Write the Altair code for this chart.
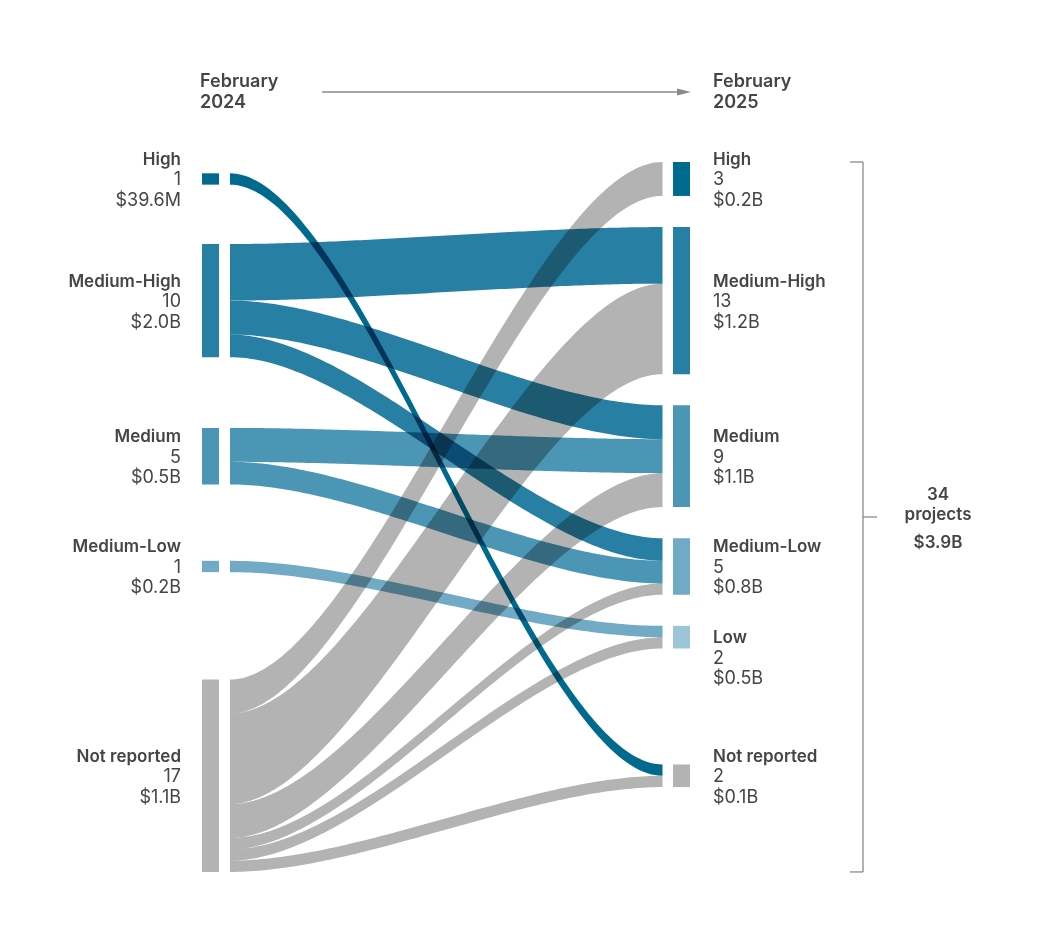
import altair as alt
import pandas as pd

# ---------------- data ----------------
left_labels = ["High", "Medium-High", "Medium", "Medium-Low", "Not reported"]
left_counts = [1, 10, 5, 1, 17]
left_values = ["$39.6M", "$2.0B", "$0.5B", "$0.2B", "$1.1B"]

right_labels = ["High", "Medium-High", "Medium", "Medium-Low", "Low", "Not reported"]
right_counts = [3, 13, 9, 5, 2, 2]
right_values = ["$0.2B", "$1.2B", "$1.1B", "$0.8B", "$0.5B", "$0.1B"]

flow_source = ["High", "Medium-High", "Medium-High", "Medium-High", "Medium", "Medium",
               "Medium-Low", "Not reported", "Not reported", "Not reported", "Not reported",
               "Not reported", "Not reported"]
flow_target = ["Not reported", "Medium-High", "Medium", "Medium-Low", "Medium", "Medium-Low",
               "Low", "High", "Medium-High", "Medium", "Medium-Low", "Low", "Not reported"]
flow_count = [1, 5, 3, 2, 3, 2, 1, 3, 8, 3, 1, 1, 1]

header_left = ["February", "2024"]
header_right = ["February", "2025"]
total_label = "projects"
total_value = "$3.9B"

# ---------------- style ----------------
COLORS = {"High": "#006a8e", "Medium-High": "#2780a3", "Medium": "#4b96b4",
          "Medium-Low": "#70aac4", "Low": "#9cc5d7", "Not reported": "#b3b3b3"}
LABEL_NUDGE_PX = {"Low": 20}   # right-hand label pushed down to avoid overlap
FONT = "Inter"
FS = 18
FS_TITLE = 17
TXT = "#454545"
GRAY = "#8a8a8a"
GAP = 2.75          # gap between stacked nodes, in project units
PX = 11.314         # pixels per project
TOP0 = 154          # plot pixel of unit 0
W, H = 1022, 931
CURV = 0.3

yscale = alt.Scale(domain=[-TOP0 / PX, (H - TOP0) / PX], reverse=True)

# ---------------- layout (sankey) ----------------
rc = dict(zip(right_labels, right_counts))
lc = dict(zip(left_labels, left_counts))
rtop = {}
y = 0.0
for lab, c in zip(right_labels, right_counts):
    rtop[lab] = y
    y += c + GAP
ltop = {}
for lab, c in zip(left_labels, left_counts):
    if lab == "Not reported":
        ltop[lab] = rtop[lab]
    else:
        ltop[lab] = rtop[lab] + rc[lab] / 2 - c / 2
rtop["Not reported"] = ltop["Not reported"] + lc["Not reported"] / 2 - rc["Not reported"] / 2

flows = pd.DataFrame({"source": flow_source, "target": flow_target, "count": flow_count})
flows["si"] = flows["source"].map({l: i for i, l in enumerate(left_labels)})
flows["ti"] = flows["target"].map({l: i for i, l in enumerate(right_labels)})
flows["fid"] = range(len(flows))
sy0 = {}
off = dict(ltop)
for _, r in flows.sort_values(["si", "ti"]).iterrows():
    sy0[r.fid] = off[r.source]
    off[r.source] += r["count"]
ty0 = {}
off = dict(rtop)
for _, r in flows.sort_values(["ti", "si"]).iterrows():
    ty0[r.fid] = off[r.target]
    off[r.target] += r["count"]
flows["sy0"] = flows["fid"].map(sy0)
flows["sy1"] = flows["sy0"] + flows["count"]
flows["ty0"] = flows["fid"].map(ty0)
flows["ty1"] = flows["ty0"] + flows["count"]
flows["color"] = flows["source"].map(COLORS)


def node_table(labels, counts, values, tops, nudge):
    df = pd.DataFrame({"label": labels, "count": [str(c) for c in counts], "value": values})
    df["top"] = df["label"].map(tops)
    df["bottom"] = df["top"] + counts
    df["center"] = (df["top"] + df["bottom"]) / 2
    df["tcenter"] = df["center"] + df["label"].map(lambda l: nudge.get(l, 0) / PX)
    df["color"] = df["label"].map(COLORS)
    return df


left = node_table(left_labels, left_counts, left_values, ltop, {})
right = node_table(right_labels, right_counts, right_values, rtop, LABEL_NUDGE_PX)

btop = min(left["top"].min(), right["top"].min())
bbot = max(left["bottom"].max(), right["bottom"].max())
bracket = pd.DataFrame({"top": [btop], "bottom": [bbot], "mid": [(btop + bbot) / 2],
                        "n": [str(sum(left_counts))], "lab": [total_label], "val": [total_value]})

one = pd.DataFrame({"a": [0]})

# ---------------- layers ----------------
flow_layer = (
    alt.Chart(flows)
    .transform_calculate(u="sequence(0, 1.0001, 0.01)")
    .transform_flatten(["u"])
    .transform_calculate(xx=f"3*{CURV}*datum.u*pow(1-datum.u,2) + 3*(1-{CURV})*pow(datum.u,2)*(1-datum.u) + pow(datum.u,3)")
    .transform_calculate(s="3*pow(datum.u,2) - 2*pow(datum.u,3)")
    .transform_calculate(yt="datum.sy0 + (datum.ty0 - datum.sy0)*datum.s")
    .transform_calculate(yb="datum.sy1 + (datum.ty1 - datum.sy1)*datum.s")
    .mark_area(blend="multiply", orient="vertical", interpolate="linear")
    .encode(
        x=alt.X("xx:Q", scale=alt.Scale(domain=[0, 1], range=[222, 654.5]), axis=None),
        y=alt.Y("yt:Q", scale=yscale, axis=None, stack=None),
        y2="yb:Q",
        color=alt.Color("color:N", scale=None),
        detail="fid:N",
    )
)


def bars(df, x0, x1):
    return alt.Chart(df).mark_rect().encode(
        x=alt.value(x0), x2=alt.value(x1),
        y=alt.Y("top:Q", scale=yscale, axis=None), y2="bottom:Q",
        color=alt.Color("color:N", scale=None),
    )


def texts(df, x, align):
    out = []
    for field, dy, wt, fs in [("label", -14, 600, FS_TITLE), ("count", 6.5, 400, FS),
                              ("value", 27, 400, FS)]:
        out.append(
            alt.Chart(df).mark_text(align=align, baseline="alphabetic", dy=dy, font=FONT,
                                    fontSize=fs, fontWeight=wt, color=TXT)
            .encode(x=alt.value(x), y=alt.Y("tcenter:Q", scale=yscale, axis=None),
                    text=f"{field}:N")
        )
    return out


def header(lines, x):
    return alt.Chart(one).mark_text(align="left", baseline="alphabetic", font=FONT, fontSize=FS,
                                    fontWeight=600, color=TXT, lineHeight=21).encode(
        x=alt.value(x), y=alt.value(79), text=alt.value(lines))


arrow_line = alt.Chart(one).mark_rule(color=GRAY, strokeWidth=1.3).encode(
    x=alt.value(314), x2=alt.value(672), y=alt.value(84))
arrow_head = alt.Chart(one).mark_point(shape="M-1,-0.5L1,0L-1,0.5Z", filled=True, size=196,
                                       color=GRAY, opacity=1).encode(
    x=alt.value(676), y=alt.value(84))

br_v = alt.Chart(bracket).mark_rule(color=GRAY, strokeWidth=1.3).encode(
    x=alt.value(855), y=alt.Y("top:Q", scale=yscale, axis=None), y2="bottom:Q")
br_t = alt.Chart(bracket).mark_rule(color=GRAY, strokeWidth=1.3).encode(
    x=alt.value(842), x2=alt.value(855), y=alt.Y("top:Q", scale=yscale, axis=None))
br_b = alt.Chart(bracket).mark_rule(color=GRAY, strokeWidth=1.3).encode(
    x=alt.value(842), x2=alt.value(855), y=alt.Y("bottom:Q", scale=yscale, axis=None))
br_m = alt.Chart(bracket).mark_rule(color=GRAY, strokeWidth=1.3).encode(
    x=alt.value(855), x2=alt.value(869), y=alt.Y("mid:Q", scale=yscale, axis=None))

br_txt = []
for field, dy in [("n", -17), ("lab", 3), ("val", 31)]:
    br_txt.append(
        alt.Chart(bracket).mark_text(align="center", baseline="alphabetic", dy=dy, font=FONT,
                                     fontSize=FS_TITLE, fontWeight=600, color=TXT)
        .encode(x=alt.value(930), y=alt.Y("mid:Q", scale=yscale, axis=None), text=f"{field}:N")
    )

chart = alt.layer(
    flow_layer,
    bars(left, 194, 211),
    bars(right, 665, 682),
    *texts(left, 173, "right"),
    *texts(right, 705, "left"),
    header(header_left, 192),
    header(header_right, 705),
    arrow_line, arrow_head,
    br_v, br_t, br_b, br_m,
    *br_txt,
).properties(width=W, height=H, padding=0, autosize="none", background="white"
).configure_view(stroke=None)

chart.save("out.html", embed_options={"renderer": "svg", "actions": False})
